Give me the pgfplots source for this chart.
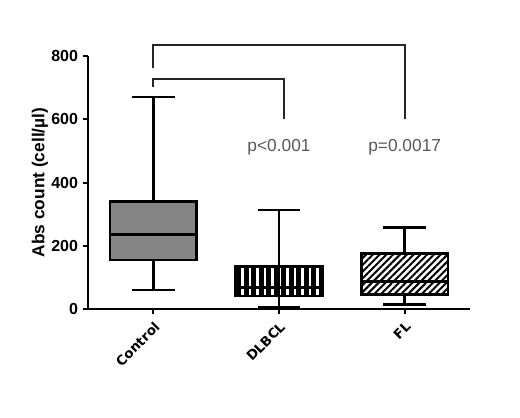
\documentclass[border=0pt]{standalone}
\usepackage{pgfplots}
\pgfplotsset{compat=1.18}
\usepgfplotslibrary{statistics}
\usetikzlibrary{patterns,patterns.meta}
\usepackage{fontspec}
\setmainfont{Liberation Sans}
\newfontfamily\catfont{DejaVu Sans}

\begin{document}
\begin{tikzpicture}
\path[use as bounding box] (-66pt,-81pt) rectangle (324pt,231.75pt);
\begin{axis}[
    at={(0,0)}, anchor=south west,
    scale only axis,
    width=286.5pt, height=189.75pt,
    xmin=-0.52, xmax=2.52,
    ymin=0, ymax=800,
    axis lines=left,
    axis line style={line width=1.8pt, -},
    xtick={0,1,2},
    xticklabels={Control,DLBCL,FL},
    ytick={0,200,400,600,800},
    tick align=outside,
    major tick length=4pt,
    tick style={line width=1.5pt, black},
    /pgf/number format/assume math mode=true,
    yticklabel style={font=\fontsize{12}{14}\selectfont\bfseries},
    xticklabel style={rotate=45, anchor=north east,
        font=\catfont\bfseries\fontsize{10}{12}\selectfont},
    ylabel={Abs count (cell/µl)},
    ylabel style={font=\fontsize{13}{15}\selectfont\bfseries,
        at={(axis description cs:-0.126,0.5)}, anchor=center},
    clip=false,
    boxplot/draw direction=y,
    boxplot/box extend=0.69,
    boxplot/whisker extend=0.34,
    boxplot/every median/.style={line width=2pt, black},
]

% Control
\addplot[boxplot prepared={draw position=0,
    lower whisker=60, lower quartile=155, median=235,
    upper quartile=340, upper whisker=670},
    draw=black, line width=1.8pt, fill=black!48]
    coordinates {};

% DLBCL
\addplot[boxplot prepared={draw position=1,
    lower whisker=7, lower quartile=41, median=68,
    upper quartile=135, upper whisker=313},
    draw=black, line width=1.8pt, fill=white,
    pattern={Lines[angle=90, distance=5.6pt, line width=3.6pt]},
    pattern color=black]
    coordinates {};
\addplot[black, line width=1.8pt] coordinates {(1,41) (1,135)};

% FL
\addplot[boxplot prepared={draw position=2,
    lower whisker=14, lower quartile=46, median=87,
    upper quartile=176, upper whisker=258},
    draw=black, line width=1.8pt, fill=white,
    pattern={Lines[angle=45, distance=3.6pt, line width=1.5pt]},
    pattern color=black]
    coordinates {};

% significance brackets
\addplot[black!85, line width=1.5pt] coordinates {(0,762) (0,835) (2,835) (2,600)};
\addplot[black!85, line width=1.5pt] coordinates {(0,703) (0,728) (1.04,728) (1.04,600)};

\node[text=black!65, font=\fontsize{13}{15}\selectfont] at (axis cs:1,513) {p<0.001};
\node[text=black!65, font=\fontsize{13}{15}\selectfont] at (axis cs:2,513) {p=0.0017};

\end{axis}
\end{tikzpicture}
\end{document}
